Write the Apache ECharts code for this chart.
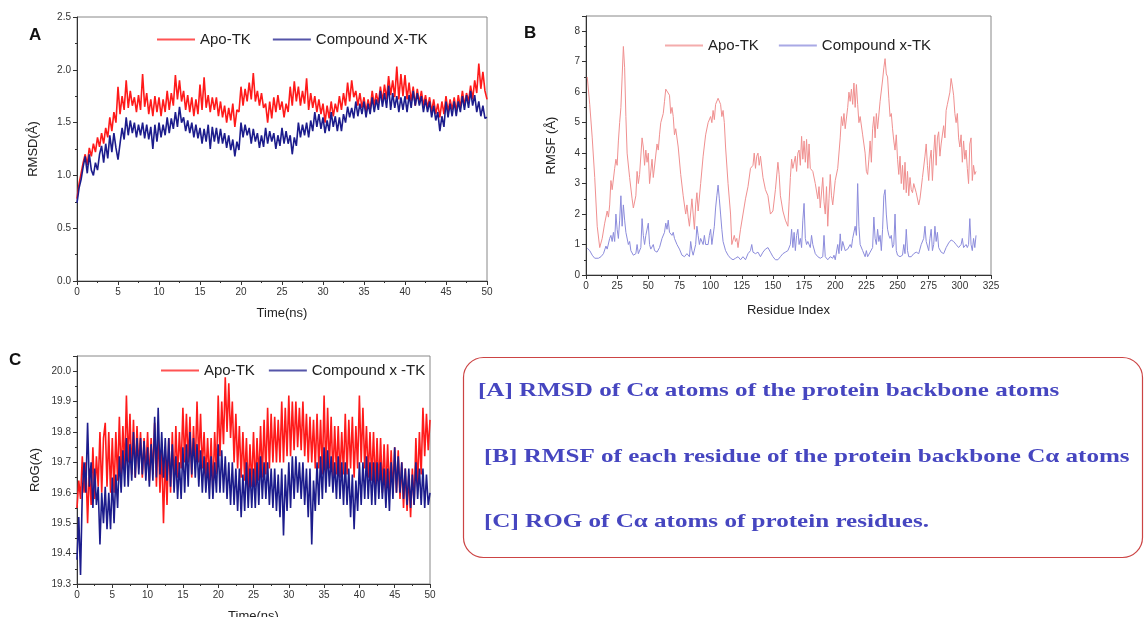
<!DOCTYPE html>
<html>
<head>
<meta charset="utf-8">
<script src="https://cdn.jsdelivr.net/npm/echarts@6/dist/echarts.min.js"></script>
<style>
  html, body { margin: 0; padding: 0; background: #fff; }
  #main { width: 1145px; height: 617px; }
</style>
</head>
<body>
<div id="main"></div>
<script>
// A: RMSD (Å) vs time, sampled every 0.25 ns from 0 to 50 ns
const rmsdApo = [
  0.78,0.92,1.02,1.12, 1.2,1.1,1.26,1.18, 1.3,1.22,1.36,1.27, 1.4,1.3,1.45,1.36, 1.55,1.42,1.6,1.5,
  1.84,1.58,1.75,1.62, 1.9,1.64,1.8,1.66, 1.74,1.6,1.76,1.62, 1.96,1.65,1.78,1.58, 1.72,1.56,1.75,1.6,
  1.74,1.56,1.72,1.6, 1.8,1.62,1.78,1.66, 1.95,1.72,1.9,1.7, 1.8,1.62,1.76,1.6, 1.74,1.56,1.72,1.58,
  1.86,1.62,1.93,1.64, 1.76,1.6,1.74,1.62, 1.74,1.56,1.7,1.55, 1.66,1.5,1.64,1.52, 1.68,1.46,1.62,1.6,
  1.84,1.66,1.82,1.7, 1.88,1.72,1.97,1.7, 1.8,1.66,1.78,1.64, 1.68,1.5,1.7,1.54, 1.74,1.6,1.76,1.62,
  1.7,1.55,1.68,1.6, 1.84,1.66,1.89,1.7, 1.84,1.66,1.8,1.68, 1.92,1.62,1.78,1.64, 1.75,1.6,1.72,1.58,
  1.68,1.5,1.66,1.54, 1.7,1.56,1.68,1.6, 1.75,1.62,1.78,1.66, 1.88,1.7,1.9,1.74, 1.8,1.66,1.78,1.64,
  1.74,1.6,1.72,1.62, 1.8,1.66,1.78,1.68, 1.84,1.7,1.86,1.72, 1.94,1.76,1.9,1.74, 2.03,1.72,1.96,1.75,
  1.95,1.72,1.88,1.7, 1.84,1.66,1.82,1.68, 1.8,1.66,1.76,1.64, 1.74,1.6,1.72,1.58, 1.68,1.55,1.7,1.58,
  1.75,1.6,1.72,1.62, 1.74,1.6,1.76,1.64, 1.8,1.66,1.78,1.7, 1.85,1.72,1.9,1.78, 2.06,1.82,1.98,1.8,
  1.72
];
const rmsdCmp = [
  0.74,0.88,0.96,1.08, 1.18,1.02,1.2,1.05, 1.0,1.12,1.05,1.2, 1.28,1.12,1.3,1.16, 1.38,1.22,1.4,1.26,
  1.15,1.3,1.45,1.34, 1.55,1.38,1.52,1.4, 1.5,1.36,1.48,1.38, 1.5,1.35,1.48,1.34, 1.46,1.25,1.48,1.32,
  1.5,1.36,1.48,1.38, 1.55,1.4,1.54,1.44, 1.6,1.46,1.65,1.5, 1.55,1.42,1.52,1.4, 1.5,1.36,1.48,1.35,
  1.45,1.3,1.44,1.32, 1.48,1.25,1.46,1.32, 1.45,1.3,1.44,1.3, 1.4,1.26,1.38,1.24, 1.34,1.18,1.32,1.24,
  1.5,1.36,1.48,1.38, 1.45,1.3,1.44,1.32, 1.4,1.26,1.38,1.27, 1.45,1.3,1.42,1.32, 1.4,1.25,1.38,1.28,
  1.45,1.3,1.42,1.3, 1.38,1.2,1.36,1.28, 1.5,1.36,1.48,1.38, 1.5,1.36,1.52,1.42, 1.6,1.46,1.58,1.44,
  1.55,1.4,1.52,1.42, 1.6,1.46,1.56,1.42, 1.55,1.42,1.58,1.5, 1.65,1.55,1.64,1.54, 1.7,1.56,1.68,1.58,
  1.7,1.55,1.68,1.58, 1.74,1.6,1.72,1.62, 1.8,1.65,1.78,1.64, 1.85,1.62,1.78,1.64, 1.75,1.6,1.74,1.62,
  1.75,1.6,1.76,1.64, 1.8,1.66,1.78,1.66, 1.75,1.6,1.72,1.6, 1.7,1.55,1.66,1.52, 1.6,1.42,1.56,1.46,
  1.7,1.55,1.68,1.56, 1.7,1.56,1.7,1.6, 1.75,1.62,1.76,1.64, 1.8,1.66,1.76,1.6, 1.7,1.56,1.66,1.54,
  1.55
];

// B: RMSF (Å) per residue, [residue, value]
const rmsfApo = [
  [1,6.5],[3,5.6],[5,4.5],[7,3.2],[9,1.6],[11,0.9],[13,1.2],[15,1.7],[17,2.1],[18,1.9],[19,2.3],[20,3.1],
  [21,2.8],[23,3.5],[24,3.8],[25,3.6],[26,4.4],[27,5.0],[28,5.5],[29,6.5],[30,7.5],[31,6.8],[32,5.2],[33,4.0],
  [35,3.2],[37,2.5],[38,2.2],[40,2.6],[41,3.4],[42,3.0],[43,3.3],[45,4.5],[46,4.2],[47,3.6],[48,4.1],[49,3.7],
  [50,4.0],[51,3.0],[53,3.8],[54,3.2],[55,3.2],[57,4.3],[58,4.1],[59,4.6],[60,5.0],[62,5.3],[63,5.7],[64,6.1],
  [65,6.15],[67,5.9],[68,5.3],[69,5.5],[70,5.2],[71,4.6],[72,4.8],[74,4.2],[76,3.3],[78,2.6],[80,2.0],[81,2.3],
  [82,1.9],[83,1.6],[85,2.5],[86,2.0],[87,1.5],[88,2.3],[89,2.7],[90,2.1],[92,3.0],[94,3.9],[96,4.6],[98,5.0],
  [100,5.2],[101,5.0],[102,5.4],[103,5.1],[104,5.6],[106,5.8],[108,5.6],[109,5.2],[110,5.4],[111,5.0],[112,4.2],
  [114,3.0],[116,2.0],[117,1.0],[119,1.3],[120,1.1],[121,1.2],[122,0.9],[124,1.5],[126,2.0],[128,2.5],[130,2.9],
  [132,3.5],[134,3.6],[135,4.0],[136,3.5],[137,3.9],[138,4.0],[139,3.6],[140,3.9],[142,3.2],[144,2.8],[146,2.6],
  [148,2.0],[150,2.1],[152,2.8],[154,3.7],[155,3.3],[156,2.6],[158,2.1],[160,1.8],[162,1.6],[163,2.4],[164,3.2],
  [165,3.8],[166,3.5],[168,3.9],[169,3.4],[170,4.0],[171,4.1],[172,3.6],[173,4.55],[174,3.8],[175,4.4],[176,3.7],
  [177,4.45],[178,3.5],[179,4.3],[180,3.5],[182,3.4],[184,3.0],[186,2.5],[187,2.9],[188,2.2],[190,3.2],[191,2.4],
  [192,2.0],[193,2.9],[194,1.6],[195,2.5],[196,3.3],[197,2.6],[198,2.3],[200,3.1],[202,3.5],[204,4.5],[205,5.2],
  [206,4.9],[207,5.3],[208,4.8],[210,5.5],[211,6.0],[212,5.7],[213,6.1],[214,5.6],[215,6.3],[216,5.5],[217,6.25],
  [218,5.6],[219,5.0],[220,5.2],[222,4.6],[223,4.3],[224,4.0],[225,3.4],[226,3.3],[227,3.8],[228,4.4],[229,3.7],
  [230,4.8],[231,5.2],[232,4.5],[233,5.3],[234,4.8],[236,5.7],[238,6.4],[239,6.8],[240,7.1],[241,6.6],[242,6.5],
  [243,5.8],[244,5.2],[245,5.3],[246,4.8],[247,4.4],[248,4.1],[249,4.6],[250,3.8],[251,3.3],[252,3.9],[253,3.0],
  [254,3.6],[255,2.8],[256,3.7],[257,2.7],[258,3.4],[259,2.6],[260,3.2],[261,2.8],[262,2.7],[263,3.0],[265,2.7],
  [267,2.3],[268,2.5],[270,3.2],[272,3.9],[273,4.3],[274,3.6],[275,3.1],[276,3.8],[277,4.1],[278,3.1],[279,4.0],
  [280,4.6],[281,3.6],[282,4.5],[283,4.7],[284,3.9],[285,4.3],[287,4.9],[288,4.5],[289,5.4],[290,5.6],[292,6.0],
  [293,6.45],[294,6.2],[295,5.9],[296,5.3],[297,5.0],[298,5.3],[299,4.5],[300,4.2],[301,4.6],[302,3.7],[303,4.4],
  [304,3.8],[305,4.1],[306,3.5],[307,3.0],[308,4.3],[309,4.5],[310,3.1],[311,3.6],[312,3.3],[313,3.4]
];
const rmsfCmp = [
  [1,0.88],[3,0.8],[5,0.65],[7,0.55],[10,0.55],[12,0.6],[14,0.7],[16,0.95],[17,0.85],[19,1.2],[20,1.3],[21,1.1],
  [22,1.4],[23,1.1],[24,2.0],[25,1.5],[26,1.2],[27,1.8],[28,2.6],[29,1.6],[30,2.3],[31,1.8],[32,1.4],[34,1.0],
  [35,1.1],[36,0.8],[38,0.65],[40,0.7],[41,1.0],[42,0.7],[44,0.9],[45,1.85],[46,1.3],[47,1.0],[48,1.3],[50,1.7],
  [51,1.0],[52,0.85],[54,1.0],[55,0.8],[57,0.75],[59,0.9],[61,1.2],[63,1.4],[64,1.7],[65,1.5],[66,1.8],[67,1.4],
  [69,1.3],[70,1.4],[71,1.2],[73,1.0],[75,0.85],[77,0.65],[79,0.6],[81,0.7],[83,0.6],[84,1.1],[85,0.8],[86,0.65],
  [88,1.0],[89,1.6],[90,1.3],[91,1.0],[92,1.2],[94,1.0],[95,1.3],[96,1.0],[98,1.0],[99,1.3],[100,1.5],[101,1.0],
  [103,1.6],[104,2.2],[105,2.6],[106,2.95],[107,2.5],[108,2.0],[109,1.5],[110,1.1],[112,0.8],[114,0.65],[116,0.55],
  [118,0.5],[120,0.55],[122,0.6],[124,0.5],[126,0.6],[128,0.5],[130,0.7],[132,0.8],[133,1.0],[134,0.75],[136,0.7],
  [138,0.75],[140,0.6],[142,0.75],[144,0.85],[146,0.9],[148,0.75],[150,0.6],[152,0.5],[154,0.5],[156,0.6],[158,0.7],
  [160,0.75],[162,0.8],[164,1.0],[165,1.5],[166,0.9],[167,1.4],[168,0.8],[169,1.3],[170,1.5],[171,1.0],[172,1.2],
  [173,0.9],[174,1.8],[175,2.35],[176,1.2],[177,1.0],[178,1.1],[180,0.9],[181,1.3],[182,1.0],[184,0.7],[186,0.6],
  [188,0.55],[190,0.6],[191,1.3],[192,0.6],[194,0.5],[196,0.6],[198,0.55],[199,0.65],[200,0.5],[202,1.0],[203,0.7],
  [204,1.35],[205,0.8],[206,1.1],[208,0.8],[210,0.85],[212,1.0],[213,0.9],[214,1.2],[216,1.6],[217,1.3],[218,3.0],
  [219,1.6],[220,1.0],[222,0.8],[224,0.6],[225,0.8],[226,0.6],[228,0.75],[230,0.9],[231,1.9],[232,1.2],[233,1.0],
  [234,1.5],[235,1.1],[236,1.3],[237,0.8],[238,1.5],[239,2.6],[240,2.8],[241,2.0],[242,1.5],[243,1.3],[244,1.2],
  [245,1.3],[246,0.9],[247,1.0],[248,2.0],[249,0.8],[250,0.65],[252,0.6],[254,0.65],[255,1.0],[256,0.7],[257,1.5],
  [258,0.8],[259,0.6],[261,0.6],[263,0.7],[265,0.75],[267,0.7],[269,1.0],[271,1.2],[272,1.6],[273,1.1],[275,0.8],
  [276,1.2],[277,1.5],[278,0.8],[279,1.0],[280,1.6],[281,1.1],[282,1.4],[283,0.9],[285,0.75],[287,0.7],[289,0.9],
  [291,1.05],[293,1.15],[295,1.1],[297,1.0],[299,0.9],[301,1.0],[302,1.2],[303,0.9],[305,1.0],[306,0.9],[307,1.0],
  [308,1.85],[309,1.0],[310,0.8],[311,1.2],[312,0.9],[313,1.3]
];

// C: radius of gyration vs time, sampled every 0.25 ns
const rogApo = [
  19.55,19.64,19.58,19.72, 19.6,19.7,19.5,19.68, 19.56,19.75,19.58,19.72, 19.62,19.8,19.6,19.78, 19.83,19.62,19.8,19.6,
  19.78,19.6,19.8,19.64, 19.85,19.66,19.82,19.68, 19.92,19.7,19.86,19.66, 19.84,19.65,19.82,19.68, 19.8,19.65,19.78,19.66,
  19.8,19.64,19.78,19.66, 19.83,19.62,19.8,19.6, 19.74,19.5,19.72,19.56, 19.78,19.6,19.8,19.62, 19.82,19.65,19.8,19.68,
  19.88,19.7,19.86,19.7, 19.85,19.65,19.82,19.68, 19.9,19.7,19.86,19.68, 19.8,19.65,19.78,19.64, 19.78,19.6,19.8,19.66,
  19.92,19.72,19.9,19.76, 19.98,19.8,19.96,19.78, 19.9,19.7,19.86,19.68, 19.82,19.65,19.8,19.64, 19.78,19.6,19.76,19.62,
  19.8,19.62,19.78,19.64, 19.82,19.65,19.84,19.66, 19.88,19.68,19.86,19.7, 19.85,19.7,19.84,19.7, 19.9,19.7,19.88,19.72,
  19.92,19.72,19.9,19.74, 19.9,19.75,19.88,19.74, 19.9,19.72,19.86,19.7, 19.85,19.7,19.84,19.68, 19.86,19.68,19.84,19.66,
  19.92,19.66,19.88,19.68, 19.85,19.65,19.82,19.66, 19.82,19.65,19.8,19.66, 19.86,19.66,19.84,19.68, 19.85,19.65,19.82,19.68,
  19.92,19.7,19.88,19.68, 19.82,19.65,19.8,19.64, 19.8,19.62,19.78,19.62, 19.78,19.6,19.76,19.6, 19.76,19.6,19.74,19.6,
  19.75,19.6,19.74,19.58, 19.7,19.55,19.68,19.54, 19.66,19.52,19.68,19.56, 19.78,19.62,19.8,19.66, 19.88,19.72,19.86,19.74,
  19.84
];
const rogCmp = [
  19.38,19.52,19.33,19.6, 19.7,19.6,19.83,19.62, 19.7,19.55,19.68,19.56, 19.62,19.43,19.6,19.5, 19.62,19.48,19.6,19.48,
  19.65,19.5,19.66,19.55, 19.72,19.6,19.74,19.62, 19.78,19.62,19.76,19.64, 19.8,19.65,19.78,19.66, 19.78,19.66,19.77,19.64,
  19.75,19.62,19.76,19.64, 19.85,19.65,19.88,19.66, 19.8,19.65,19.78,19.64, 19.78,19.62,19.76,19.6, 19.72,19.58,19.7,19.58,
  19.75,19.6,19.76,19.62, 19.8,19.66,19.78,19.65, 19.76,19.62,19.74,19.6, 19.72,19.6,19.7,19.58, 19.72,19.58,19.7,19.6,
  19.76,19.6,19.74,19.6, 19.72,19.58,19.7,19.56, 19.7,19.56,19.68,19.54, 19.68,19.52,19.66,19.54, 19.7,19.55,19.68,19.55,
  19.68,19.55,19.7,19.56, 19.72,19.58,19.7,19.58, 19.7,19.56,19.68,19.55, 19.68,19.54,19.66,19.52, 19.68,19.46,19.66,19.54,
  19.7,19.55,19.72,19.58, 19.72,19.6,19.7,19.58, 19.7,19.56,19.68,19.52, 19.68,19.43,19.64,19.54, 19.7,19.56,19.72,19.58,
  19.75,19.6,19.74,19.62, 19.72,19.6,19.7,19.58, 19.72,19.58,19.7,19.56, 19.7,19.56,19.68,19.52, 19.66,19.48,19.64,19.54,
  19.7,19.56,19.7,19.58, 19.72,19.58,19.7,19.56, 19.7,19.56,19.7,19.58, 19.7,19.58,19.68,19.55, 19.68,19.54,19.7,19.58,
  19.75,19.6,19.72,19.6, 19.7,19.58,19.68,19.56, 19.68,19.55,19.66,19.56, 19.7,19.58,19.68,19.56, 19.68,19.55,19.66,19.56,
  19.6
];

const timeStep = 0.25;
const withTime = arr => arr.map((v, i) => [i * timeStep, v]);

const boxLines = [
  '[A] RMSD of C\u03b1 atoms of the protein backbone atoms',
  '[B] RMSF of each residue of the protein backbone C\u03b1 atoms',
  '[C] ROG of C\u03b1 atoms of protein residues.'
];

const font = 'Liberation Sans, Arial, sans-serif';
const serif = 'bold 19px "Liberation Serif", serif';
const red = '#ff1a1a', navy = '#1c1c8c';
const lightRed = '#f09090', lightBlue = '#8c8cdc';

function xAxisOf(grid, max, interval, name, gap) {
  return {
    type: 'value', gridIndex: grid, min: 0, max: max, interval: interval,
    name: name, nameLocation: 'middle', nameGap: gap,
    nameTextStyle: { fontSize: 13, color: '#222', fontFamily: font },
    axisLine: { lineStyle: { color: '#333', width: 1 } },
    axisTick: { length: 4, lineStyle: { color: '#333' } },
    minorTick: { show: true, splitNumber: 2, length: 2, lineStyle: { color: '#333' } },
    axisLabel: { fontSize: 10, color: '#333', fontFamily: font, margin: 6 },
    splitLine: { show: false }
  };
}
function yAxisOf(grid, min, max, interval, name, gap, digits, showMax) {
  return {
    type: 'value', gridIndex: grid, min: min, max: max, interval: interval,
    name: name, nameLocation: 'middle', nameGap: gap, nameRotate: 90,
    nameTextStyle: { fontSize: 13, color: '#222', fontFamily: font },
    axisLine: { show: true, lineStyle: { color: '#333', width: 1 } },
    axisTick: { show: true, length: 4, lineStyle: { color: '#333' } },
    minorTick: { show: true, splitNumber: 2, length: 2, lineStyle: { color: '#333' } },
    axisLabel: { fontSize: 10, color: '#333', fontFamily: font, margin: 6, showMaxLabel: showMax,
      formatter: v => v.toFixed(digits) },
    splitLine: { show: false }
  };
}
function lineOf(name, data, color, xi, yi, width) {
  return {
    type: 'line', name: name, xAxisIndex: xi, yAxisIndex: yi, data: data,
    showSymbol: false, symbol: 'none', lineStyle: { color: color, width: width },
    itemStyle: { color: color }, animation: false, silent: true
  };
}
function legendOf(left, top, names, colors, gap) {
  return {
    left: left, top: top, itemGap: gap, itemWidth: 38, itemHeight: 2,
    icon: 'rect',
    textStyle: { fontSize: 15, color: '#222', fontFamily: font },
    data: names.map((n, i) => ({
      name: n,
      itemStyle: { color: colors[i], borderColor: colors[i], borderWidth: 0, opacity: 0.75 },
      lineStyle: { color: colors[i] }
    }))
  };
}

const chart = echarts.init(document.getElementById('main'));
const gridStyle = { show: true, borderColor: '#888', borderWidth: 1, containLabel: false, outerBoundsMode: 'none' };
chart.setOption({
  backgroundColor: '#fff',
  animation: false,
  grid: [
    Object.assign({ left: 77, top: 17, width: 410, height: 264 }, gridStyle),
    Object.assign({ left: 586, top: 16, width: 405, height: 259 }, gridStyle),
    Object.assign({ left: 77, top: 356, width: 353, height: 228 }, gridStyle)
  ],
  xAxis: [
    xAxisOf(0, 50, 5, 'Time(ns)', 26),
    xAxisOf(1, 325, 25, 'Residue Index', 29),
    xAxisOf(2, 50, 5, 'Time(ns)', 26)
  ],
  yAxis: [
    yAxisOf(0, 0, 2.5, 0.5, 'RMSD(\u00c5)', 37, 1, true),
    yAxisOf(1, 0, 8.5, 1, 'RMSF (\u00c5)', 28, 0, false),
    yAxisOf(2, 19.3, 20.05, 0.1, 'RoG(A)', 35, 1, false)
  ],
  legend: [
    legendOf(152, 27, ['Apo-TK', 'Compound X-TK'], [red, navy], 22),
    legendOf(660, 33, ['Apo-TK', 'Compound x-TK'], [lightRed, lightBlue], 20),
    legendOf(156, 358, ['Apo-TK', 'Compound x -TK'], [red, navy], 14)
  ],
  series: [
    lineOf('Apo-TK', withTime(rmsdApo), red, 0, 0, 1.6),
    lineOf('Compound X-TK', withTime(rmsdCmp), navy, 0, 0, 1.6),
    lineOf('Apo-TK', rmsfApo, lightRed, 1, 1, 1),
    lineOf('Compound x-TK', rmsfCmp, lightBlue, 1, 1, 1),
    lineOf('Apo-TK', withTime(rogApo), red, 2, 2, 1.6),
    lineOf('Compound x -TK', withTime(rogCmp), navy, 2, 2, 1.6)
  ],
  graphic: [
    { type: 'text', x: 29, y: 27, style: { text: 'A', font: 'bold 17px ' + font, fill: '#111' } },
    { type: 'text', x: 524, y: 25, style: { text: 'B', font: 'bold 17px ' + font, fill: '#111' } },
    { type: 'text', x: 9, y: 352, style: { text: 'C', font: 'bold 17px ' + font, fill: '#111' } },
    { type: 'rect', shape: { x: 463.5, y: 357.5, width: 679, height: 200, r: 20 },
      style: { fill: 'none', stroke: '#cc4444', lineWidth: 1.2 } },
    { type: 'text', x: 478, y: 391, scaleX: 1.32,
      style: { text: boxLines[0], font: serif, fill: '#4646c0', verticalAlign: 'middle' } },
    { type: 'text', x: 484, y: 457, scaleX: 1.32,
      style: { text: boxLines[1], font: serif, fill: '#4646c0', verticalAlign: 'middle' } },
    { type: 'text', x: 484, y: 522, scaleX: 1.32,
      style: { text: boxLines[2], font: serif, fill: '#4646c0', verticalAlign: 'middle' } }
  ]
});
</script>
</body>
</html>
